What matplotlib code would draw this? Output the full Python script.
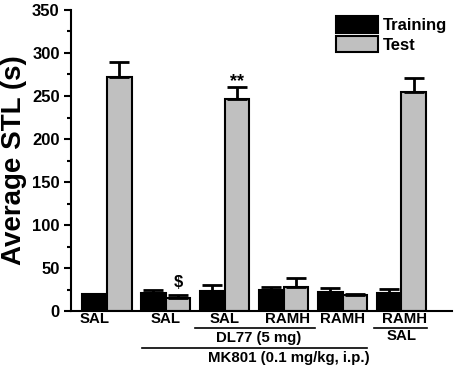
import numpy as np
import matplotlib.pyplot as plt
from matplotlib.ticker import MultipleLocator

plt.rcParams['font.family'] = ['Liberation Sans', 'DejaVu Sans']
plt.rcParams['font.weight'] = 'bold'

training = [20, 20.5, 23, 25, 22.5, 21.5]
training_err = [0, 3.5, 7.5, 3, 4.5, 4]
test = [272, 15.5, 246, 28, 19, 255]
test_err = [18, 3.5, 15, 10.5, 0.5, 15.5]
series_names = ["Training", "Test"]
labels_row1 = [(-0.21, "SAL"), (1.0, "SAL"), (2.0, "SAL"), (3.07, "RAMH"), (4.0, "RAMH"), (5.05, "RAMH")]

fig = plt.figure(figsize=(4.54, 3.69), dpi=100)
ax = fig.add_axes([0.156, 0.157, 0.84, 0.816])

x = np.arange(len(training))
w = 0.42
ax.bar(x - w / 2, training, w, color="black", edgecolor="black", linewidth=1.5, label=series_names[0], zorder=2)
ax.bar(x + w / 2, test, w, color="#c0c0c0", edgecolor="black", linewidth=1.5, label=series_names[1], zorder=2)
ax.errorbar(x - w / 2, training, yerr=[np.zeros(6), training_err], fmt="none", ecolor="black",
            elinewidth=2, capsize=7.5, capthick=2, zorder=3)
ax.errorbar(x + w / 2, test, yerr=[np.zeros(6), test_err], fmt="none", ecolor="black",
            elinewidth=2, capsize=7.5, capthick=2, zorder=3)

ax.text(1 + w / 2, 24, "$", ha="center", va="bottom", fontsize=12, fontweight="bold")
ax.text(2 + w / 2, 257, "**", ha="center", va="bottom", fontsize=13, fontweight="bold")

ax.set_xlim(-0.61, 5.86)
ax.set_ylim(0, 350)
ax.yaxis.set_major_locator(MultipleLocator(50))
ax.yaxis.set_minor_locator(MultipleLocator(25))
ax.set_xticks([])
ax.spines["top"].set_visible(False)
ax.spines["right"].set_visible(False)
ax.spines["left"].set_linewidth(1.5)
ax.spines["bottom"].set_linewidth(1.5)
ax.tick_params(axis="y", which="major", length=5, width=1.5, labelsize=12, pad=3)
ax.tick_params(axis="y", which="minor", length=3, width=1.5)
for t in ax.get_yticklabels():
    t.set_fontweight("bold")
ax.set_ylabel("Average STL (s)", fontsize=20, fontweight="bold", labelpad=4)

fs = 10.8
tr = ax.get_xaxis_transform()
for xp, s in labels_row1:
    ax.text(xp, -0.027, s, transform=tr, ha="center", va="center", fontsize=fs, fontweight="bold")
ax.plot([1.49, 3.53], [-0.055, -0.055], transform=tr, color="black", lw=1.2, clip_on=False)
ax.plot([4.54, 5.44], [-0.055, -0.055], transform=tr, color="black", lw=1.2, clip_on=False)
ax.text(2.58, -0.09, "DL77 (5 mg)", transform=tr, ha="center", va="center", fontsize=fs, fontweight="bold")
ax.text(5.0, -0.083, "SAL", transform=tr, ha="center", va="center", fontsize=fs, fontweight="bold")
ax.plot([0.59, 4.41], [-0.122, -0.122], transform=tr, color="black", lw=1.2, clip_on=False)
ax.text(3.08, -0.155, "MK801 (0.1 mg/kg, i.p.)", transform=tr, ha="center", va="center",
        fontsize=fs, fontweight="bold")

ax.legend(loc="upper right", bbox_to_anchor=(1.012, 1.012), frameon=False,
          handlelength=2.5, handleheight=1.15, handletextpad=0.3, labelspacing=0.15,
          borderaxespad=0.2, prop={"weight": "bold", "size": 12})

fig.savefig("out.png", dpi=100)
